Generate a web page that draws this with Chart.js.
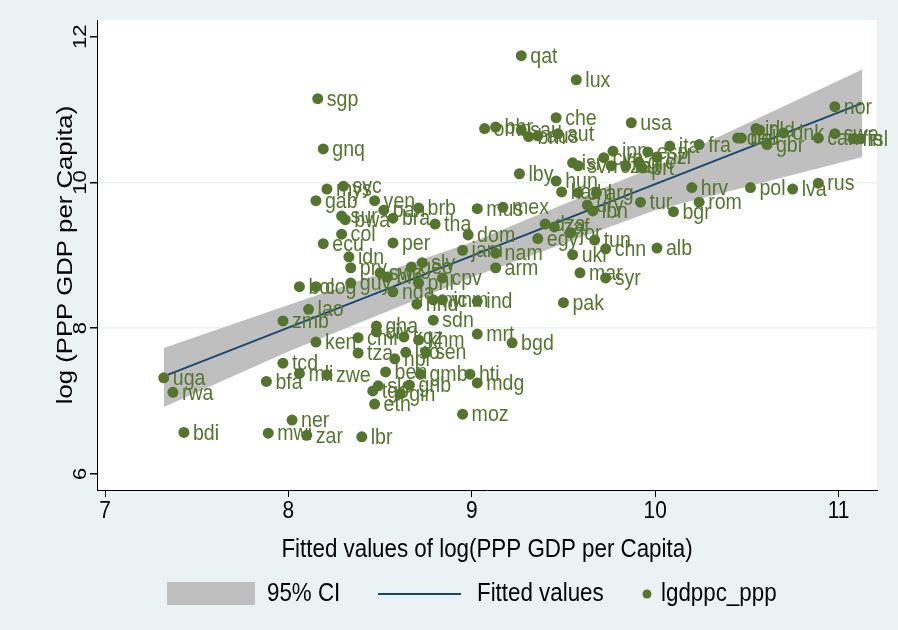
<!DOCTYPE html>
<html>
<head>
<meta charset="utf-8">
<script src="https://cdn.jsdelivr.net/npm/chart.js@4/dist/chart.umd.min.js"></script>
<style>
  html, body { margin: 0; padding: 0; background: #eaf2f3; }
  canvas { display: block; }
</style>
</head>
<body>
<canvas id="grafica" width="898" height="630"></canvas>
<script>
// country codes and their (fitted, actual) log GDP per capita
const paises = ['qat','lux','sgp','gnq','che','usa','nor','omn','bhr','sau','brn','aus','aut',
  'deu','bel','irl','nld','gbr','dnk','can','swe','fin','isl','fra','ita','esp','nzl','jpn',
  'isr','svn','cyp','cze','grc','prt','mlt','lby','hun','kaz','chl','arg','ury','lbn','tur',
  'hrv','rom','bgr','pol','lva','rus','mus','mex','dza','zaf','jor','tun','egy','chn','alb',
  'ukr','mar','syr','nam','arm','dom','jam','pak','ind','vnm','nic','hnd','sdn','mrt','bgd',
  'hti','mdg','moz','gha','civ','ken','cmr','kgz','khm','tza','npl','lso','sen','tcd','mli',
  'zwe','bfa','ben','gmb','sle','tgo','gnb','gin','eth','ner','mwi','zar','lbr','uga','rwa',
  'bdi','zmb','lao','bol','cog','guy','nga','phl','cpv','slv','geo','swz','bih','pry','idn',
  'per','ecu','col','tha','bra','bwa','sur','pan','brb','ven','gab','mys','syc'];

const valoresAjustados = [9.27,9.57,8.16,8.19,9.46,9.87,10.98,9.07,9.13,9.27,9.31,9.36,9.47,
  10.45,10.47,10.55,10.57,10.61,10.70,10.89,10.98,11.08,11.12,10.24,10.08,9.96,10.01,9.77,
  9.55,9.58,9.72,9.76,9.91,9.93,9.84,9.26,9.46,9.49,9.58,9.68,9.63,9.66,9.92,
  10.20,10.24,10.10,10.52,10.75,10.89,9.03,9.17,9.40,9.45,9.54,9.67,9.36,9.73,10.01,
  9.55,9.59,9.73,9.13,9.13,8.98,8.95,9.50,9.03,8.84,8.79,8.70,8.79,9.03,9.22,
  8.99,9.03,8.95,8.48,8.48,8.15,8.38,8.63,8.71,8.38,8.58,8.64,8.75,7.97,8.06,
  8.21,7.88,8.53,8.72,8.49,8.46,8.66,8.61,8.47,8.02,7.89,8.10,8.40,7.32,7.37,
  7.43,7.97,8.11,8.06,8.15,8.34,8.57,8.71,8.84,8.73,8.67,8.50,8.54,8.34,8.33,
  8.57,8.19,8.29,8.80,8.57,8.31,8.29,8.52,8.71,8.47,8.15,8.21,8.30];

const lgdppc = [11.74,11.41,11.15,10.46,10.89,10.82,11.04,10.74,10.76,10.72,10.63,10.64,10.67,
  10.61,10.61,10.74,10.72,10.52,10.68,10.61,10.67,10.60,10.60,10.52,10.50,10.42,10.35,10.43,
  10.27,10.23,10.34,10.23,10.28,10.20,10.23,10.12,10.02,9.87,9.86,9.86,9.69,9.61,9.73,
  9.93,9.73,9.60,9.93,9.91,9.99,9.64,9.66,9.43,9.39,9.31,9.21,9.23,9.09,9.10,
  9.01,8.76,8.69,9.03,8.83,9.28,9.07,8.35,8.37,8.39,8.39,8.33,8.11,7.92,7.80,
  7.37,7.25,6.82,8.03,7.95,7.81,7.87,7.88,7.84,7.66,7.58,7.67,7.67,7.52,7.38,
  7.36,7.27,7.40,7.37,7.21,7.14,7.22,7.10,6.96,6.74,6.56,6.53,6.51,7.32,7.12,
  6.57,8.10,8.26,8.57,8.57,8.62,8.50,8.62,8.69,8.90,8.84,8.76,8.70,8.83,8.98,
  9.17,9.16,9.29,9.43,9.51,9.49,9.54,9.62,9.65,9.75,9.75,9.91,9.95];

// fitted line and 95% CI band
const lineaX = [7.32, 11.13];
const lineaY = [7.34, 11.09];
const bandaX = [7.32, 8, 9, 10, 11.13];
const bandaSup = [7.73, 8.32, 9.18, 10.22, 11.55];
const bandaInf = [6.92, 7.68, 8.70, 9.62, 10.35];

const ticksX = [7, 8, 9, 10, 11];
const ticksY = [6, 8, 10, 12];

const tituloX = 'Fitted values of log(PPP GDP per Capita)';
const tituloY = 'log (PPP GDP per Capita)';
const nombresLeyenda = ['95% CI', 'Fitted values', 'lgdppc_ppp'];

const VERDE = '#55752f';
const AZUL = '#1a476f';
const GRIS = '#bfbfbf';
const FONDO = '#eaf2f3';
const FUENTE = '"Liberation Sans", Arial, sans-serif';
const K = 0.87; // letra angosta, como en Stata

const puntos = valoresAjustados.map((x, i) => ({ x: x, y: lgdppc[i] }));
const linea = lineaX.map((x, i) => ({ x: x, y: lineaY[i] }));
const sup = bandaX.map((x, i) => ({ x: x, y: bandaSup[i] }));
const inf = bandaX.map((x, i) => ({ x: x, y: bandaInf[i] }));

// texto comprimido a lo ancho (rot = true: vertical, de abajo hacia arriba)
function texto(ctx, str, x, y, size, align, rot) {
    ctx.save();
    ctx.translate(x, y);
    if (rot) ctx.rotate(-Math.PI / 2);
    if (rot) ctx.scale(1, K); else ctx.scale(K, 1);
    ctx.font = size + 'px ' + FUENTE;
    ctx.textAlign = align;
    ctx.textBaseline = 'middle';
    ctx.fillText(str, 0, 0);
    ctx.restore();
}

// fondo gris azulado y region blanca del grafico
const fondo = {
    id: 'fondo',
    beforeDraw(chart) {
        const { ctx, chartArea: a } = chart;
        ctx.save();
        ctx.fillStyle = FONDO;
        ctx.fillRect(0, 0, chart.width, chart.height);
        ctx.fillStyle = '#ffffff';
        ctx.fillRect(a.left, a.top, a.right - a.left, a.bottom - a.top);
        ctx.restore();
    }
};

// etiquetas de pais a la derecha de cada punto
const etiquetas = {
    id: 'etiquetas',
    afterDatasetsDraw(chart) {
        const ctx = chart.ctx;
        const meta = chart.getDatasetMeta(0);
        ctx.fillStyle = VERDE;
        meta.data.forEach((el, i) => {
            texto(ctx, paises[i], el.x + 9, el.y + 1, 22.5, 'left', false);
        });
    }
};

// numeros y titulos de los ejes
const ejes = {
    id: 'ejes',
    afterDraw(chart) {
        const ctx = chart.ctx;
        const sx = chart.scales.x, sy = chart.scales.y, a = chart.chartArea;
        ctx.fillStyle = '#000';
        ticksX.forEach(v => texto(ctx, String(v), sx.getPixelForValue(v), 511, 24, 'center', false));
        ticksY.forEach(v => texto(ctx, String(v), 81, sy.getPixelForValue(v), 22, 'center', true));
        texto(ctx, tituloX, (a.left + a.right) / 2, 550, 25.7, 'center', false);
        texto(ctx, tituloY, 66, (a.top + a.bottom) / 2, 25.7, 'center', true);
    }
};

// leyenda al pie
const leyenda = {
    id: 'leyenda',
    afterDraw(chart) {
        const ctx = chart.ctx;
        const y = 594;
        ctx.save();
        ctx.fillStyle = GRIS;
        ctx.fillRect(167, 582, 88, 23);
        ctx.strokeStyle = AZUL;
        ctx.lineWidth = 2;
        ctx.beginPath();
        ctx.moveTo(378, y);
        ctx.lineTo(461, y);
        ctx.stroke();
        ctx.fillStyle = VERDE;
        ctx.beginPath();
        ctx.arc(647, y, 4.5, 0, Math.PI * 2);
        ctx.fill();
        ctx.restore();
        ctx.fillStyle = '#000';
        texto(ctx, nombresLeyenda[0], 267, y, 25.7, 'left', false);
        texto(ctx, nombresLeyenda[1], 477, y, 25.7, 'left', false);
        texto(ctx, nombresLeyenda[2], 661, y, 25.7, 'left', false);
    }
};

const ctx = document.getElementById('grafica').getContext('2d');
new Chart(ctx, {
    type: 'scatter',
    data: {
        datasets: [{
            label: nombresLeyenda[2],
            data: puntos,
            backgroundColor: VERDE,
            borderColor: VERDE,
            borderWidth: 0,
            pointRadius: 5.5,
            order: 1
        }, {
            label: nombresLeyenda[1],
            data: linea,
            showLine: true,
            borderColor: AZUL,
            borderWidth: 2,
            pointRadius: 0,
            order: 2
        }, {
            label: nombresLeyenda[0],
            data: sup,
            showLine: true,
            borderWidth: 0,
            borderColor: GRIS,
            backgroundColor: GRIS,
            pointRadius: 0,
            fill: '+1',
            order: 3
        }, {
            label: 'inf',
            data: inf,
            showLine: true,
            borderWidth: 0,
            borderColor: GRIS,
            pointRadius: 0,
            order: 4
        }]
    },
    options: {
        responsive: false,
        animation: false,
        devicePixelRatio: 1,
        layout: { padding: { top: 20, right: 21, bottom: 65, left: 0 } },
        plugins: {
            legend: { display: false },
            tooltip: { enabled: false }
        },
        scales: {
            x: {
                type: 'linear',
                min: 6.956,
                max: 11.21,
                afterBuildTicks: (s) => { s.ticks = ticksX.map(v => ({ value: v })); },
                afterFit: (s) => { s.height = 75; },
                grid: { drawOnChartArea: false, tickLength: 7, tickColor: '#000' },
                border: { display: true, color: '#000', width: 1 },
                ticks: { display: false },
                title: { display: false }
            },
            y: {
                type: 'linear',
                min: 5.78,
                max: 12.23,
                afterBuildTicks: (s) => { s.ticks = ticksY.map(v => ({ value: v })); },
                afterFit: (s) => { s.width = 97; },
                grid: {
                    color: (c) => (c.tick && (c.tick.value === 8 || c.tick.value === 10)) ? FONDO : 'rgba(0,0,0,0)',
                    lineWidth: 1.5,
                    tickLength: 7,
                    tickColor: '#000'
                },
                border: { display: true, color: '#000', width: 1 },
                ticks: { display: false },
                title: { display: false }
            }
        }
    },
    plugins: [fondo, etiquetas, ejes, leyenda]
});
</script>
</body>
</html>
